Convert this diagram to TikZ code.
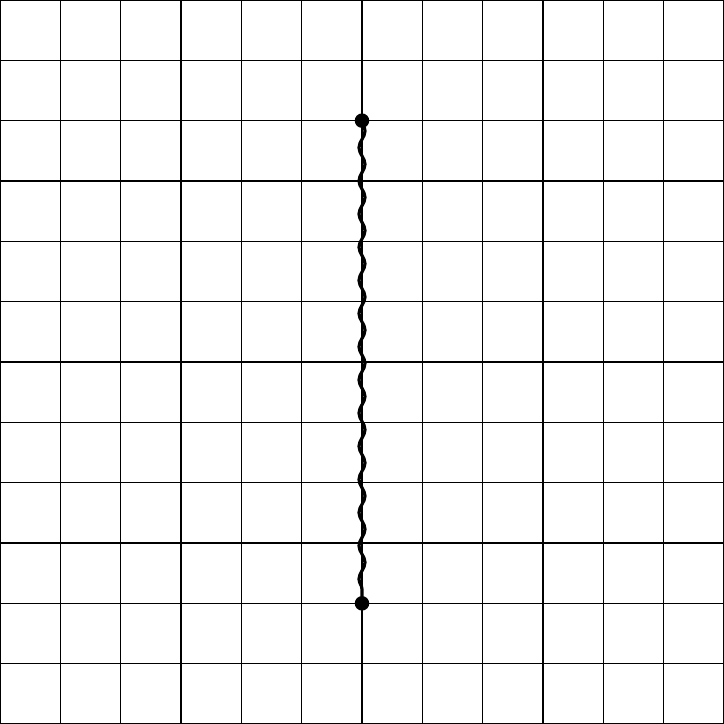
\documentclass[tikz,border=0pt]{standalone}
\usetikzlibrary{decorations.pathmorphing}
\begin{document}
\begin{tikzpicture}[
  gridline/.style={line width=0.7pt, black},
  dot/.style={circle, fill=black, inner sep=0pt, minimum size=0.24cm},
  wavy/.style={line width=1.5pt, decorate, decoration={snake, segment length=0.55cm, amplitude=0.05cm}}
]
\useasboundingbox (0,0) rectangle (12,12);
\draw[gridline] (0,0) grid (12,12);
\draw[gridline] (0,0) rectangle (12,12);
\node[dot] (a) at (6,10) {};
\node[dot] (b) at (6,2) {};
\draw[wavy] (a.center) -- (b.center);
\end{tikzpicture}
\end{document}
